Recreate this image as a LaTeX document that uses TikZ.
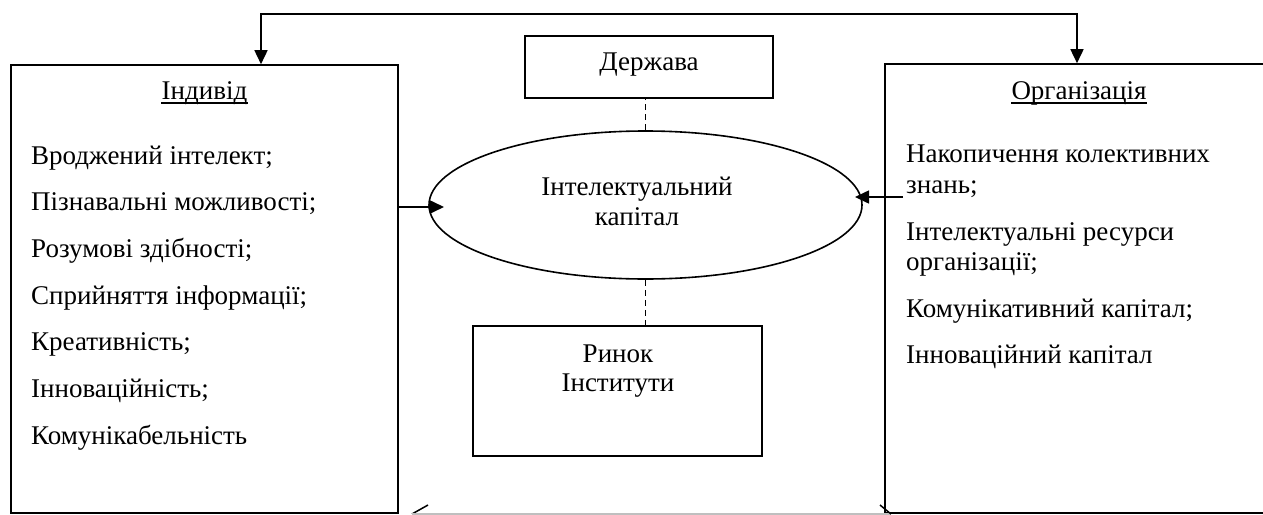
\documentclass[tikz,border=0pt]{standalone}
\usepackage{fontspec}
\setmainfont{Liberation Serif}
\usetikzlibrary{arrows.meta,shapes.geometric,calc}
\begin{document}
\begin{tikzpicture}[x=1pt,y=-1pt,
  box/.style={draw, line width=1.6pt, inner sep=0pt},
  txt/.style={inner sep=0pt, font=\fontsize{27}{30}\selectfont},
  arr/.style={line width=1.6pt, -{Triangle[length=14pt,width=13pt]}},
  dsh/.style={line width=1.6pt, dash pattern=on 6pt off 4pt},
  uline/.style={line width=1.4pt}]
\useasboundingbox (0,0) rectangle (1263,514);
\clip (0,0) rectangle (1263,514);
% boxes
\node[box, minimum width=387pt, minimum height=448pt] (ind) at (204.5,289) {};
\node[box, minimum width=420pt, minimum height=449pt] (org) at (1095,288.5) {};
\node[box, minimum width=248pt, minimum height=62pt] (derzh) at (649,67) {};
\node[box, ellipse, minimum width=433pt, minimum height=148pt] (ell) at (645.5,205) {};
\node[box, minimum width=289pt, minimum height=130pt] (rynok) at (617.5,391) {};
% headers
\node[txt, anchor=base] (indh) at (204.5,99) {Індивід};
\draw[uline] ([yshift=-4pt]indh.base west) -- ([yshift=-4pt]indh.base east);
\node[txt, anchor=base] (orgh) at (1079,99) {Організація};
\draw[uline] ([yshift=-4pt]orgh.base west) -- ([yshift=-4pt]orgh.base east);
% left items
\node[txt, anchor=base west] (i1) at (31,164) {Вроджений інтелект;};
\node[txt, anchor=base west] (i2) at (31,210.7) {Пізнавальні можливості;};
\node[txt, anchor=base west] (i3) at (31,257.4) {Розумові здібності;};
\node[txt, anchor=base west] (i4) at (31,304.1) {Сприйняття інформації;};
\node[txt, anchor=base west] (i5) at (31,350.8) {Креативність;};
\node[txt, anchor=base west] (i6) at (31,397.5) {Інноваційність;};
\node[txt, anchor=base west] (i7) at (31,444.2) {Комунікабельність};
% right items
\node[txt, anchor=base west] (o1) at (906,162.5) {Накопичення колективних};
\node[txt, anchor=base west] (o1b) at (906,193) {знань;};
\node[txt, anchor=base west] (o2) at (906,240) {Інтелектуальні ресурси};
\node[txt, anchor=base west] (o2b) at (906,270.5) {організації;};
\node[txt, anchor=base west] (o3) at (906,317) {Комунікативний капітал;};
\node[txt, anchor=base west] (o4) at (906,363) {Інноваційний капітал};
% center texts
\node[txt, anchor=base] (dt) at (649,70) {Держава};
\node[txt, anchor=base] (e1) at (637,195) {Інтелектуальний};
\node[txt, anchor=base] (e2) at (637,225) {капітал};
\node[txt, anchor=base] (r1) at (618,362) {Ринок};
\node[txt, anchor=base] (r2) at (618,391) {Інститути};
% top connector
\coordinate (tl) at (261,14);
\coordinate (tr) at (1077,14);
\draw[line width=1.6pt, {Triangle[length=14pt,width=13pt]}-{Triangle[length=14pt,width=13pt]}]
  (tr |- org.north) -- (tr) -- (tl) -- (tl |- ind.north);
% side arrows
\coordinate (la) at (444,207);
\draw[arr] (la -| ind.east) -- (la);
\coordinate (rs) at (903,197);
\coordinate (ra) at (855,197);
\draw[arr] (rs) -- (ra);
% dashed links
\draw[dsh] (ell.north) -- (ell.north |- derzh.south);
\draw[dsh] (ell.south) -- (ell.south |- rynok.north);
% bottom fragments
\coordinate (b1) at (412,514);
\coordinate (b2) at (428,505);
\coordinate (b3) at (880,505);
\coordinate (b4) at (891,514);
\draw[line width=1.5pt] (b1) -- (b2);
\draw[black!25, line width=1.2pt] (b1) -- (b4);
\draw[line width=1.5pt] (b3) -- (b4);
\end{tikzpicture}
\end{document}
